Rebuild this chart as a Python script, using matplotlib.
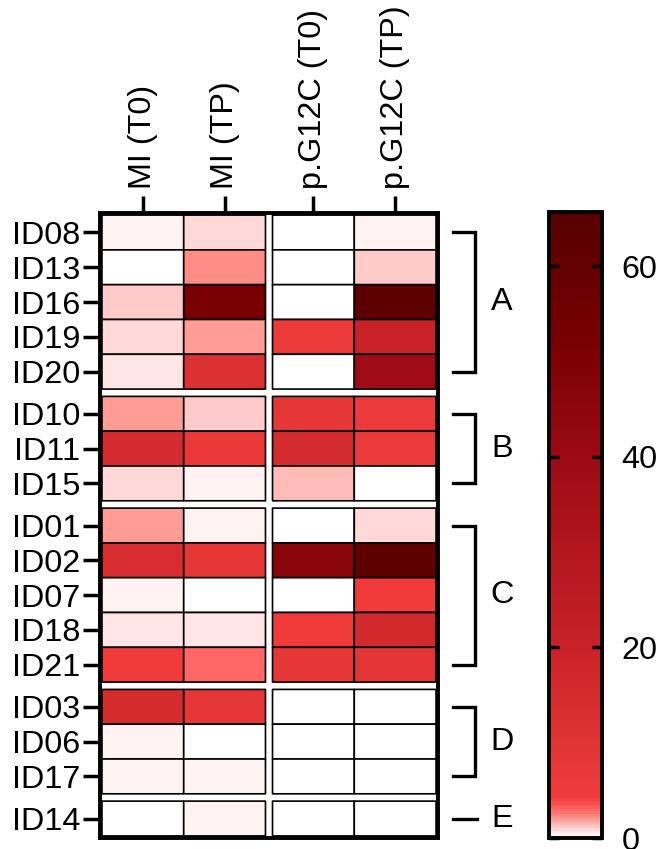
import numpy as np
import matplotlib.pyplot as plt
from matplotlib.colors import LinearSegmentedColormap, Normalize

plt.rcParams['font.family'] = ['Liberation Sans', 'DejaVu Sans']

# data
ids = ['ID08', 'ID13', 'ID16', 'ID19', 'ID20',
       'ID10', 'ID11', 'ID15',
       'ID01', 'ID02', 'ID07', 'ID18', 'ID21',
       'ID03', 'ID06', 'ID17',
       'ID14']
groups = ['A', 'B', 'C', 'D', 'E']
group_sizes = [5, 3, 5, 3, 1]
columns = ['MI (T0)', 'MI (TP)', 'p.G12C (T0)', 'p.G12C (TP)']

mi_t0 = [0.3, 0.25, 1.25, 1.0, 0.6,
         2.0, 15, 0.8,
         1.9, 14, 0.4, 0.7, 4.5,
         15, 0.5, 0.5,
         0.25]
mi_tp = [1.0, 2.3, 52, 2.0, 12,
         1.1, 6.5, 0.45,
         0.45, 8, 0.25, 0.7, 3.0,
         8, 0.25, 0.45,
         0.4]
g12c_t0 = [0, 0, 0, 6, 0,
           8, 15, 1.3,
           0, 46, 0, 4.5, 8,
           0, 0, 0,
           0]
g12c_tp = [0.4, 1.2, 62, 20, 38,
           6, 6, 0,
           0.8, 62, 4.5, 16, 9,
           0, 0, 0,
           0]

vmax = 65.7
cmap_values = [0, 0.5, 1.0, 2.0, 3.0, 4.0, 10, 20, 40, 52, 65.7]
cmap_colors = ['#ffffff', '#ffe6e6', '#ffcccc', '#ff9088', '#ff6060', '#f23c3c',
               '#e03434', '#c82228', '#9c0a14', '#780000', '#560000']
cmap = LinearSegmentedColormap.from_list(
    'reds', [(v / vmax, c) for v, c in zip(cmap_values, cmap_colors)])
norm = Normalize(0, vmax)

gap_y = 0.21
gap_x = 0.086
fs = 23.3

vals = np.array([mi_t0, mi_tp, g12c_t0, g12c_tp], dtype=float).T

# blank rows/column between blocks
y_edges = [0.0]
rows = []
centers = []
group_spans = []
i = 0
for gi, n in enumerate(group_sizes):
    first = y_edges[-1] + 0.5
    for k in range(n):
        rows.append(vals[i])
        centers.append(y_edges[-1] + 0.5)
        y_edges.append(y_edges[-1] + 1)
        i += 1
    group_spans.append((first, y_edges[-1] - 0.5))
    if gi < len(group_sizes) - 1:
        rows.append(np.full(4, np.nan))
        y_edges.append(y_edges[-1] + gap_y)
Z = np.array(rows)
Z = np.column_stack([Z[:, 0], Z[:, 1], np.full(len(Z), np.nan), Z[:, 2], Z[:, 3]])
Z = np.ma.masked_invalid(Z)
x_edges = [0, 1, 2, 2 + gap_x, 3 + gap_x, 4 + gap_x]
x_centers = [0.5, 1.5, 2.5 + gap_x, 3.5 + gap_x]

fig = plt.figure(figsize=(6.62, 8.49), dpi=100)
ax = fig.add_axes([100 / 662, 1 - 838 / 849, 338 / 662, 625 / 849])
cax = fig.add_axes([549 / 662, 1 - 838 / 849, 53 / 662, 626 / 849])

mesh = ax.pcolor(x_edges, y_edges, Z, cmap=cmap, norm=norm,
                 edgecolors='black', linewidth=1.2)
ax.set_xlim(-0.024, x_edges[-1] + 0.024)
ax.set_ylim(y_edges[-1] + 0.06, -0.06)

ax.set_yticks(centers, ids)
ax.xaxis.tick_top()
ax.set_xticks(x_centers, columns, rotation=90)
ax.tick_params(axis='y', length=12, width=2.5, pad=2, labelsize=fs)
ax.tick_params(axis='x', length=12, width=2.5, pad=5, labelsize=fs)
for s in ax.spines.values():
    s.set_linewidth(2.8)

# group brackets
xa, xb, xt = 4.294, 4.563, 4.893
for g, (y0, y1) in zip(groups, group_spans):
    if y1 > y0:
        ax.plot([xa, xb, xb, xa], [y0, y0, y1, y1], color='black', lw=2.4,
                clip_on=False, solid_joinstyle='miter')
    else:
        ax.plot([xa, xb + 0.03], [y0, y0], color='black', lw=2.4, clip_on=False)
    ax.text(xt, (y0 + y1) / 2, g, fontsize=fs, ha='center', va='center')

cb = fig.colorbar(mesh, cax=cax, ticks=[0, 20, 40, 60])
cb.outline.set_linewidth(2.8)
cax.tick_params(direction='in', left=True, right=True, length=7, width=2.5,
                labelsize=fs, pad=14)

fig.savefig('out.png', dpi=100)
